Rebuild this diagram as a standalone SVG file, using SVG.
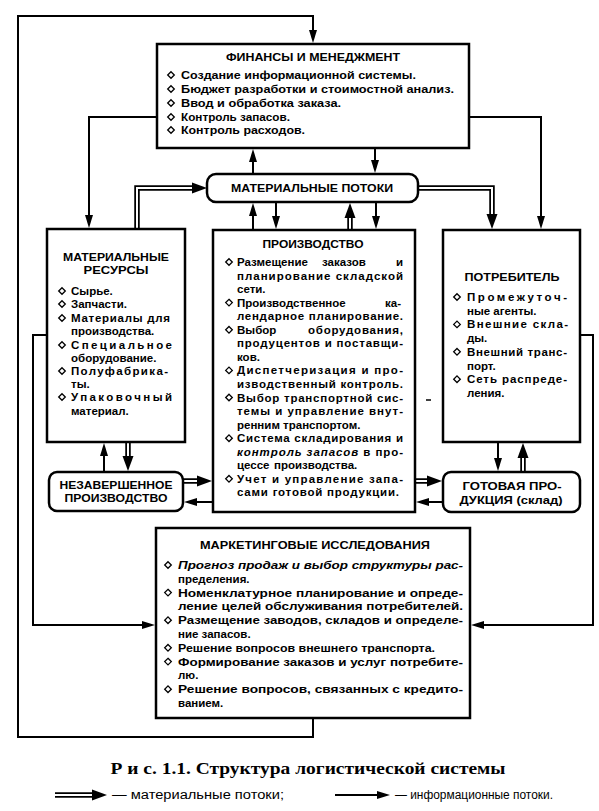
<svg xmlns="http://www.w3.org/2000/svg" xmlns:xlink="http://www.w3.org/1999/xlink" width="599" height="811" viewBox="0 0 599 811">
<style>
.box{fill:#fff;stroke:#000;stroke-width:2.5}
.ln{fill:none;stroke:#000;stroke-width:2}
.dO{fill:none;stroke:#000;stroke-width:5.5;stroke-linejoin:miter}
.dI{fill:none;stroke:#fff;stroke-width:2;stroke-linejoin:miter}
.t{font-family:"Liberation Sans",Arial,sans-serif;font-weight:bold;font-size:11.5px;fill:#000}
.s{font-size:11px}
.c{text-anchor:middle}
.i{font-style:italic}
.cap{font-family:"Liberation Serif","Times New Roman",serif;font-weight:bold;font-size:17px;text-anchor:middle}
.lg{font-family:"Liberation Sans",Arial,sans-serif;font-size:12px}
.dm{fill:#fff;stroke:#000;stroke-width:1.3}
</style>
<defs>
<path id="a" d="M0,0 L-13,-4 L-13,4 Z" fill="#000"/>
<path id="b" d="M0,0 L-15,-5.5 L-15,5.5 Z" fill="#000"/>
<path id="d" class="dm" d="M0,-3.3 L3.3,0 L0,3.3 L-3.3,0 Z"/>
</defs>

<g id="connectors">
  <path class="ln" d="M313,718 V737 H18 V16 H313 V34"/>
  <use xlink:href="#a" transform="translate(313,43) rotate(90)"/>
  <path class="ln" d="M157,117 H89 V218"/>
  <use xlink:href="#a" transform="translate(89,228) rotate(90)"/>
  <path class="ln" d="M469,117 H541 V218"/>
  <use xlink:href="#a" transform="translate(541,229) rotate(90)"/>
  <path class="ln" d="M253,174 V158"/>
  <use xlink:href="#a" transform="translate(253,149) rotate(-90)"/>
  <path class="ln" d="M375,148 V164"/>
  <use xlink:href="#a" transform="translate(375,173) rotate(90)"/>
  <path class="dO" d="M137,229 V188 H196"/>
  <path class="dI" d="M137,230 V188 H196"/>
  <use xlink:href="#b" transform="translate(207,188)"/>
  <path class="dO" d="M418,188 H492 V217"/>
  <path class="dI" d="M417,188 H492 V217"/>
  <use xlink:href="#b" transform="translate(492,229) rotate(90)"/>
  <path class="ln" d="M253,230 V212"/>
  <use xlink:href="#a" transform="translate(253,203) rotate(-90)"/>
  <path class="ln" d="M276,202 V220"/>
  <use xlink:href="#a" transform="translate(276,229) rotate(90)"/>
  <path class="dO" d="M350,230 V214"/>
  <path class="dI" d="M350,231 V214"/>
  <use xlink:href="#b" transform="translate(350,203) rotate(-90)"/>
  <path class="ln" d="M376,202 V220"/>
  <use xlink:href="#a" transform="translate(376,229) rotate(90)"/>
  <path class="ln" d="M104,472 V452"/>
  <use xlink:href="#a" transform="translate(104,443) rotate(-90)"/>
  <path class="dO" d="M128,442 V460"/>
  <path class="dI" d="M128,441 V460"/>
  <use xlink:href="#b" transform="translate(128,471) rotate(90)"/>
  <path class="dO" d="M183,481 H201"/>
  <path class="dI" d="M182,481 H201"/>
  <use xlink:href="#b" transform="translate(212,481)"/>
  <path class="ln" d="M213,502 H193"/>
  <use xlink:href="#a" transform="translate(184,502) rotate(180)"/>
  <path class="dO" d="M415,481 H431"/>
  <path class="dI" d="M414,481 H431"/>
  <use xlink:href="#b" transform="translate(442,481)"/>
  <path class="ln" d="M443,502 H425"/>
  <use xlink:href="#a" transform="translate(416,502) rotate(180)"/>
  <path class="ln" d="M498,442 V462"/>
  <use xlink:href="#a" transform="translate(498,471) rotate(90)"/>
  <path class="dO" d="M523,472 V454"/>
  <path class="dI" d="M523,473 V454"/>
  <use xlink:href="#b" transform="translate(523,443) rotate(-90)"/>
  <path class="ln" d="M47,335 H33 V625 H146"/>
  <use xlink:href="#a" transform="translate(155,625)"/>
  <path class="ln" d="M580,335 H593 V625 H481"/>
  <use xlink:href="#a" transform="translate(471,625) rotate(180)"/>
  <path d="M426,400 H431" stroke="#000" stroke-width="1.5"/>
</g>

<g id="finance">
  <rect class="box" x="157" y="44" width="312" height="104"/>
  <text class="t c" x="313" y="61" textLength="174" lengthAdjust="spacingAndGlyphs">ФИНАНСЫ И МЕНЕДЖМЕНТ</text>
  <use xlink:href="#d" x="171" y="75"/>
  <use xlink:href="#d" x="171" y="89"/>
  <use xlink:href="#d" x="171" y="103"/>
  <use xlink:href="#d" x="171" y="117"/>
  <use xlink:href="#d" x="171" y="130"/>
  <text class="t" x="181" y="79" textLength="235" lengthAdjust="spacingAndGlyphs">Создание информационной системы.</text>
  <text class="t" x="181" y="93" textLength="273" lengthAdjust="spacingAndGlyphs">Бюджет разработки и стоимостной анализ.</text>
  <text class="t" x="181" y="107" textLength="160" lengthAdjust="spacingAndGlyphs">Ввод и обработка заказа.</text>
  <text class="t" x="181" y="121" textLength="109" lengthAdjust="spacingAndGlyphs">Контроль запасов.</text>
  <text class="t" x="181" y="134" textLength="124" lengthAdjust="spacingAndGlyphs">Контроль расходов.</text>
</g>

<g id="material-flows">
  <rect class="box" x="207" y="174" width="211" height="28" rx="9"/>
  <text class="t c" x="312" y="192" textLength="162" lengthAdjust="spacingAndGlyphs">МАТЕРИАЛЬНЫЕ ПОТОКИ</text>
</g>

<g id="material-resources">
  <rect class="box" x="47" y="229" width="138" height="213"/>
  <text class="t c" x="116" y="261" textLength="106" lengthAdjust="spacingAndGlyphs">МАТЕРИАЛЬНЫЕ</text>
  <text class="t c" x="116" y="274" textLength="65" lengthAdjust="spacingAndGlyphs">РЕСУРСЫ</text>
  <use xlink:href="#d" x="62" y="291"/>
  <use xlink:href="#d" x="62" y="304"/>
  <use xlink:href="#d" x="62" y="318"/>
  <use xlink:href="#d" x="62" y="345"/>
  <use xlink:href="#d" x="62" y="371"/>
  <use xlink:href="#d" x="62" y="397"/>
  <text class="t" x="71" y="295">Сырье.</text>
  <text class="t" x="71" y="308">Запчасти.</text>
  <text class="t" x="71" y="322" textLength="99" lengthAdjust="spacing">Материалы для</text>
  <text class="t" x="71" y="335">производства.</text>
  <text class="t" x="71" y="349" textLength="101" lengthAdjust="spacing">Специальное</text>
  <text class="t" x="71" y="362">оборудование.</text>
  <text class="t" x="71" y="375" textLength="97" lengthAdjust="spacing">Полуфабрика-</text>
  <text class="t" x="71" y="388">ты.</text>
  <text class="t" x="71" y="401" textLength="101" lengthAdjust="spacing">Упаковочный</text>
  <text class="t" x="71" y="415">материал.</text>
</g>

<g id="production">
  <rect class="box" x="213" y="230" width="202" height="282"/>
  <text class="t c" x="313" y="248" textLength="101" lengthAdjust="spacingAndGlyphs">ПРОИЗВОДСТВО</text>
  <use xlink:href="#d" x="229" y="262"/>
  <use xlink:href="#d" x="229" y="302.6"/>
  <use xlink:href="#d" x="229" y="329.8"/>
  <use xlink:href="#d" x="229" y="370.4"/>
  <use xlink:href="#d" x="229" y="397.5"/>
  <use xlink:href="#d" x="229" y="438.2"/>
  <use xlink:href="#d" x="229" y="478.8"/>
  <text class="t" x="237" y="266">Размещение</text>
  <text class="t" x="322" y="266">заказов</text>
  <text class="t" x="396" y="266">и</text>
  <text class="t" x="237" y="279.5" textLength="166" lengthAdjust="spacing">планирование складской</text>
  <text class="t" x="237" y="293">сети.</text>
  <text class="t" x="237" y="306.6">Производственное</text>
  <text class="t" x="385" y="306.6">ка-</text>
  <text class="t" x="237" y="320.2" textLength="166" lengthAdjust="spacing">лендарное планирование.</text>
  <text class="t" x="237" y="333.8">Выбор</text>
  <text class="t" x="308" y="333.8" textLength="95" lengthAdjust="spacing">оборудования,</text>
  <text class="t" x="237" y="347.3" textLength="166" lengthAdjust="spacing">продуцентов и поставщи-</text>
  <text class="t" x="237" y="360.9">ков.</text>
  <text class="t" x="237" y="374.4" textLength="166" lengthAdjust="spacing">Диспетчеризация и про-</text>
  <text class="t" x="237" y="388" textLength="166" lengthAdjust="spacing">изводственный контроль.</text>
  <text class="t" x="237" y="401.5" textLength="166" lengthAdjust="spacing">Выбор транспортной сис-</text>
  <text class="t" x="237" y="415.1" textLength="166" lengthAdjust="spacing">темы и управление внут-</text>
  <text class="t" x="237" y="428.6">ренним транспортом.</text>
  <text class="t" x="237" y="442.2" textLength="166" lengthAdjust="spacing">Система складирования и</text>
  <text class="t" x="237" y="455.8" textLength="166" lengthAdjust="spacing"><tspan class="i">контроль запасов</tspan> в про-</text>
  <text class="t" x="237" y="469.3">цессе</text>
  <text class="t" x="274" y="469.3">производства.</text>
  <text class="t" x="237" y="482.9" textLength="166" lengthAdjust="spacing">Учет и управление запа-</text>
  <text class="t" x="237" y="496.4" textLength="162" lengthAdjust="spacing">сами готовой продукции.</text>
</g>

<g id="consumer">
  <rect class="box" x="443" y="230" width="137" height="212"/>
  <text class="t c" x="512" y="281" textLength="95" lengthAdjust="spacingAndGlyphs">ПОТРЕБИТЕЛЬ</text>
  <use xlink:href="#d" x="457" y="297"/>
  <use xlink:href="#d" x="457" y="324.4"/>
  <use xlink:href="#d" x="457" y="351.8"/>
  <use xlink:href="#d" x="457" y="379.2"/>
  <text class="t" x="467" y="301" textLength="100" lengthAdjust="spacing">Промежуточ-</text>
  <text class="t" x="467" y="314.7">ные агенты.</text>
  <text class="t" x="467" y="328.4" textLength="101" lengthAdjust="spacing">Внешние скла-</text>
  <text class="t" x="467" y="342.1">ды.</text>
  <text class="t" x="467" y="355.8" textLength="100" lengthAdjust="spacing">Внешний транс-</text>
  <text class="t" x="467" y="369.5">порт.</text>
  <text class="t" x="467" y="383.2" textLength="100" lengthAdjust="spacing">Сеть распреде-</text>
  <text class="t" x="467" y="396.9">ления.</text>
</g>

<g id="wip">
  <rect class="box" x="49" y="472" width="134" height="39" rx="8"/>
  <text class="t s c" x="116" y="489" textLength="113" lengthAdjust="spacingAndGlyphs">НЕЗАВЕРШЕННОЕ</text>
  <text class="t s c" x="116" y="502" textLength="103" lengthAdjust="spacingAndGlyphs">ПРОИЗВОДСТВО</text>
</g>

<g id="finished-goods">
  <rect class="box" x="443" y="472" width="137" height="40" rx="8"/>
  <text class="t s c" x="512" y="490" textLength="99" lengthAdjust="spacingAndGlyphs">ГОТОВАЯ ПРО-</text>
  <text class="t s c" x="511" y="504" textLength="103" lengthAdjust="spacingAndGlyphs">ДУКЦИЯ (склад)</text>
</g>

<g id="marketing">
  <rect class="box" x="156" y="528" width="314" height="190"/>
  <text class="t c" x="315" y="549" textLength="230" lengthAdjust="spacingAndGlyphs">МАРКЕТИНГОВЫЕ ИССЛЕДОВАНИЯ</text>
  <use xlink:href="#d" x="168" y="565"/>
  <use xlink:href="#d" x="168" y="592.6"/>
  <use xlink:href="#d" x="168" y="620.2"/>
  <use xlink:href="#d" x="168" y="647.8"/>
  <use xlink:href="#d" x="168" y="661.6"/>
  <use xlink:href="#d" x="168" y="689.2"/>
  <text class="t i" x="178" y="569" textLength="285" lengthAdjust="spacingAndGlyphs">Прогноз продаж и выбор структуры рас-</text>
  <text class="t" x="178" y="582.8">пределения.</text>
  <text class="t" x="178" y="596.6" textLength="285" lengthAdjust="spacingAndGlyphs">Номенклатурное планирование и опреде-</text>
  <text class="t" x="178" y="610.4" textLength="285" lengthAdjust="spacingAndGlyphs">ление целей обслуживания потребителей.</text>
  <text class="t" x="178" y="624.2" textLength="285" lengthAdjust="spacingAndGlyphs">Размещение заводов, складов и определе-</text>
  <text class="t" x="178" y="638">ние запасов.</text>
  <text class="t" x="178" y="651.8" textLength="257" lengthAdjust="spacingAndGlyphs">Решение вопросов внешнего транспорта.</text>
  <text class="t" x="178" y="665.6" textLength="285" lengthAdjust="spacingAndGlyphs">Формирование заказов и услуг потребите-</text>
  <text class="t" x="178" y="679.4">лю.</text>
  <text class="t" x="178" y="693.2" textLength="285" lengthAdjust="spacingAndGlyphs">Решение вопросов, связанных с кредито-</text>
  <text class="t" x="178" y="707">ванием.</text>
</g>

<g id="caption">
  <text class="cap" x="308" y="774" textLength="395" lengthAdjust="spacingAndGlyphs">Р и с. 1.1. Структура логистической системы</text>
</g>

<g id="legend">
  <path class="dO" d="M55,795 H94"/>
  <path class="dI" d="M54,795 H94"/>
  <use xlink:href="#b" transform="translate(107,795)"/>
  <text class="lg" x="112" y="799" textLength="172" lengthAdjust="spacingAndGlyphs">— материальные потоки;</text>
  <path class="ln" d="M335,795 H378"/>
  <use xlink:href="#a" transform="translate(390,795)"/>
  <text class="lg" x="395" y="799" textLength="158" lengthAdjust="spacingAndGlyphs">— информационные потоки.</text>
</g>
</svg>
